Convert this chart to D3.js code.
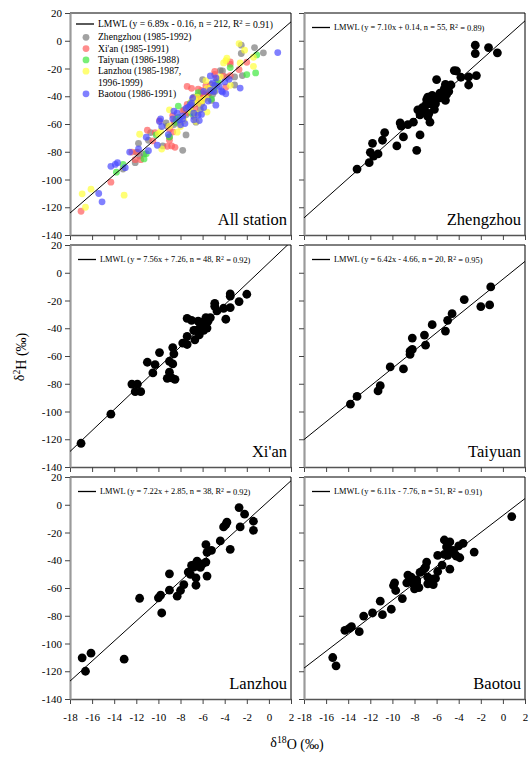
<!DOCTYPE html>
<html>
<head>
<meta charset="utf-8">
<script src="https://cdn.jsdelivr.net/npm/d3@7"></script>
<style>
  body { margin: 0; background: #fff; }
  svg { font-family: "Liberation Serif", "Times New Roman", serif; }
</style>
</head>
<body>
<div id="chart"></div>
<script>
// data: [d18O, d2H] per station
var zhengzhou = [[-2.5,-3.2],[-1.3,-4.9],[-2.5,-9.2],[-0.5,-8.7],[-2.4,-25.1],[-3.1,-26.1],[-3.1,-31.9],[-3.8,-26.3],
  [-4.4,-21.5],[-4.2,-21.8],[-6.0,-28.0],[-4.7,-31.9],[-5.2,-31.4],[-4.9,-36.5],[-5.4,-37.7],[-5.7,-37.7],
  [-5.2,-43.0],[-5.5,-40.6],[-5.8,-41.3],[-6.2,-40.8],[-6.4,-39.4],[-6.8,-40.6],[-6.9,-42.5],[-6.6,-45.4],
  [-7.0,-46.6],[-6.3,-44.2],[-6.1,-45.4],[-7.7,-49.8],[-7.5,-53.4],[-7.1,-50.2],[-6.8,-54.6],[-6.6,-58.7],
  [-6.2,-49.5],[-6.7,-52.4],[-8.1,-58.7],[-8.6,-60.4],[-9.3,-59.2],[-9.2,-61.6],[-10.7,-66.2],[-10.9,-71.7],
  [-9.0,-69.3],[-7.5,-67.9],[-9.6,-75.8],[-7.8,-79.0],[-11.8,-73.9],[-12.0,-80.4],[-11.7,-83.1],[-11.3,-81.6],
  [-12.1,-87.9],[-13.2,-92.5],[-5.7,-39.4],[-5.3,-34.5],[-6.5,-41.8],[-5.1,-38.7],[-7.3,-48.3]];
var xian = [[-17.0,-122.9],[-14.3,-101.9],[-12.4,-80.2],[-11.9,-80.2],[-12.1,-85.7],[-11.6,-85.7],[-11.0,-64.5],
  [-10.5,-72.2],[-10.3,-66.2],[-9.9,-57.5],[-8.7,-53.9],[-8.6,-58.4],[-9.0,-63.8],[-8.7,-65.7],[-9.0,-71.7],
  [-9.2,-76.1],[-8.8,-75.8],[-8.5,-76.8],[-7.8,-50.7],[-7.4,-51.7],[-7.4,-45.9],[-7.4,-32.9],[-7.0,-34.3],
  [-6.7,-48.3],[-6.4,-34.8],[-6.2,-41.5],[-6.3,-44.7],[-6.1,-40.1],[-5.9,-41.5],[-5.8,-37.9],[-5.6,-39.9],
  [-6.1,-35.8],[-5.7,-32.3],[-3.9,-33.5],[-4.9,-22.0],[-4.9,-24.2],[-4.7,-27.5],[-4.1,-25.6],[-3.5,-25.1],
  [-3.5,-16.9],[-3.5,-15.2],[-2.7,-20.8],[-2.0,-15.5],[-5.3,-32.3],[-6.7,-41.5],[-5.5,-34.8],[-6.2,-38.8],[-6.8,-41.5]];
var taiyuan = [[-1.1,-10.2],[-1.2,-23.2],[-2.0,-24.4],[-3.5,-19.3],[-4.6,-29.5],[-5.0,-34.3],[-5.2,-42.0],
  [-6.4,-37.4],[-7.1,-44.9],[-7.0,-52.2],[-8.2,-47.1],[-8.4,-56.5],[-8.4,-58.9],[-9.0,-69.3],[-10.2,-67.9],
  [-11.1,-81.4],[-11.3,-85.2],[-13.2,-89.1],[-13.8,-94.7],[-8.2,-55.3]];
var lanzhou = [[-16.9,-110.3],[-16.6,-120.0],[-16.1,-107.0],[-13.1,-111.3],[-11.7,-67.4],[-10.0,-67.1],[-9.8,-65.2],
  [-9.7,-78.0],[-9.0,-49.8],[-9.0,-61.6],[-8.3,-65.9],[-8.0,-61.8],[-7.7,-57.5],[-7.3,-48.5],[-7.1,-50.2],
  [-7.0,-43.7],[-6.7,-43.0],[-6.6,-52.7],[-6.6,-58.0],[-6.5,-40.6],[-6.2,-45.2],[-6.0,-42.7],[-5.7,-28.8],
  [-5.7,-41.3],[-5.6,-34.3],[-5.6,-51.4],[-5.2,-32.9],[-4.4,-26.1],[-4.1,-16.0],[-3.8,-12.6],[-3.9,-14.3],
  [-3.5,-32.1],[-2.7,-2.0],[-2.6,-16.0],[-2.2,-6.8],[-1.4,-11.9],[-1.4,-18.4],[-6.8,-44.9]];
var baotou = [[0.8,-8.5],[-2.6,-34.1],[-3.6,-27.8],[-4.0,-29.7],[-4.2,-37.0],[-3.9,-38.2],[-4.3,-36.2],[-4.8,-26.8],
  [-5.3,-25.4],[-5.3,-35.8],[-4.9,-32.1],[-4.8,-46.4],[-5.9,-36.5],[-5.5,-43.5],[-5.9,-48.1],[-6.4,-53.6],
  [-6.1,-53.1],[-6.8,-57.0],[-6.9,-41.3],[-7.0,-44.9],[-7.3,-47.8],[-7.5,-48.8],[-7.1,-46.1],[-7.8,-56.3],
  [-7.6,-59.7],[-8.0,-60.6],[-8.1,-57.0],[-8.3,-52.2],[-8.7,-56.3],[-8.6,-50.7],[-9.8,-56.3],[-9.7,-61.8],
  [-9.1,-67.6],[-10.1,-75.3],[-11.1,-69.5],[-10.9,-79.2],[-11.8,-78.0],[-12.6,-80.2],[-13.0,-91.5],[-13.7,-87.9],
  [-13.9,-89.1],[-14.3,-90.5],[-15.1,-116.1],[-15.4,-110.1],[-4.5,-32.9],[-5.0,-36.5],[-6.3,-57.5],[-6.8,-52.2],
  [-7.8,-54.1],[-5.1,-30.4],[-9.9,-58.2]];

var stationData = [zhengzhou, xian, taiyuan, lanzhou, baotou];
var stationPeriods = ["Zhengzhou (1985-1992)", "Xi'an (1985-1991)", "Taiyuan (1986-1988)", "Lanzhou (1985-1987,", "Baotou (1986-1991)"];
var stationColors = ["#7a7a7a", "#ff5c5c", "#3fe83f", "#ffff3a", "#4a4aff"];
var panelTitles = ["All station", "Zhengzhou", "Xi'an", "Taiyuan", "Lanzhou", "Baotou"];
// LMWL: slope, intercept, n, R2
var lmwlSlope = [6.89, 7.10, 7.56, 6.42, 7.22, 6.11];
var lmwlIntercept = [-0.16, 0.14, 7.26, -4.66, 2.85, -7.76];
var lmwlN = [212, 55, 48, 20, 38, 51];
var lmwlR2 = ["0.91", "0.89", "0.92", "0.95", "0.92", "0.91"];
var xTicks = [-18, -16, -14, -12, -10, -8, -6, -4, -2, 0, 2];
var yTicks = [-140, -120, -100, -80, -60, -40, -20, 0, 20];

var svgWidth = 530, svgHeight = 758;
var colX = [70, 304], rowY = [13, 245, 477];
var pw = 221, ph = 222;
var serif = "Liberation Serif";

var svg = d3.select("#chart").append("svg")
  .attr("width", svgWidth)
  .attr("height", svgHeight)
  .attr("font-family", serif);

var x = d3.scaleLinear().domain([-18, 2]).range([0, pw]);
var y = d3.scaleLinear().domain([-140, 20]).range([ph, 0]);

function fmt(v) { return v.toFixed(2); }

panelTitles.forEach(function(title, i) {
  var col = i % 2, row = Math.floor(i / 2);
  var g = svg.append("g").attr("transform", `translate(${colX[col]}, ${rowY[row]})`);

  g.append("clipPath").attr("id", "clip" + i)
    .append("rect").attr("width", pw).attr("height", ph);

  // top + right frame
  g.append("path")
    .attr("d", `M0,0H${pw}V${ph}`)
    .attr("fill", "none").attr("stroke", "#000").attr("stroke-width", 1);

  // bottom axis
  var xAxis = g.append("g").attr("transform", `translate(0, ${ph})`)
    .call(d3.axisBottom(x).tickValues(xTicks).tickSize(5).tickSizeOuter(0)
      .tickFormat(row === 2 ? d3.format("d") : ""));
  xAxis.attr("font-family", serif).attr("font-size", 11);
  xAxis.select(".domain").attr("stroke", "#555").attr("stroke-width", 1.3);
  xAxis.selectAll(".tick line").attr("stroke", "#444");
  xAxis.selectAll("text").attr("fill", "#000").attr("dy", "1.25em")
    .text(d => row === 2 ? String(d) : "");

  // left axis
  var yAxis = g.append("g")
    .call(d3.axisLeft(y).tickValues(yTicks).tickSize(5).tickSizeOuter(0)
      .tickFormat(col === 0 ? d3.format("d") : ""));
  yAxis.attr("font-family", serif).attr("font-size", 11);
  yAxis.select(".domain").attr("stroke", "#9a9a9a").attr("stroke-width", 2.2);
  yAxis.selectAll(".tick line").attr("stroke", "#444");
  yAxis.selectAll("text").attr("fill", "#000")
    .text(d => col === 0 ? String(d) : "");

  var plot = g.append("g").attr("clip-path", `url(#clip${i})`);

  // points
  if (i === 0) {
    stationData.forEach(function(pts, s) {
      plot.selectAll(".p" + s).data(pts).enter().append("circle")
        .attr("class", "p" + s)
        .attr("cx", d => x(d[0])).attr("cy", d => y(d[1]))
        .attr("r", 3.4).attr("fill", stationColors[s]).attr("fill-opacity", 0.7);
    });
  } else {
    plot.selectAll("circle").data(stationData[i - 1]).enter().append("circle")
      .attr("cx", d => x(d[0])).attr("cy", d => y(d[1]))
      .attr("r", 4.4).attr("fill", "#000");
  }

  // LMWL line
  var ends = x.domain().map(v => [v, lmwlSlope[i] * v + lmwlIntercept[i]]);
  plot.append("path")
    .attr("d", d3.line().x(d => x(d[0])).y(d => y(d[1]))(ends))
    .attr("stroke", "#000").attr("stroke-width", 1).attr("fill", "none");

  // legend
  var ly = i === 0 ? 11 : 14.5;
  var lx = i === 0 ? 6 : 8;
  var fs = i === 0 ? 9.6 : 8.4;
  g.append("line").attr("x1", lx).attr("x2", lx + 18).attr("y1", ly).attr("y2", ly)
    .attr("stroke", "#000").attr("stroke-width", 1.3);
  var b = lmwlIntercept[i];
  var lt = g.append("text").attr("x", lx + 22).attr("y", ly).attr("dy", "0.33em")
    .attr("font-size", fs);
  lt.append("tspan").text(`LMWL (y = ${fmt(lmwlSlope[i])}x ${b < 0 ? "-" : "+"} ${fmt(Math.abs(b))}, n = ${lmwlN[i]}, R`);
  lt.append("tspan").attr("dy", "-0.4em").attr("font-size", "0.7em").text("2");
  lt.append("tspan").attr("dy", "0.4em").text(` = ${lmwlR2[i]})`);

  if (i === 0) {
    var rows = [0, 1, 2, 3, 5];
    stationPeriods.forEach(function(label, s) {
      var ry = 24.3 + rows[s] * 11.3;
      g.append("circle").attr("cx", 16).attr("cy", ry).attr("r", 3.4)
        .attr("fill", stationColors[s]).attr("fill-opacity", 0.7);
      g.append("text").attr("x", 28).attr("y", ry).attr("dy", "0.33em")
        .attr("font-size", fs).text(label);
    });
    g.append("text").attr("x", 28).attr("y", 24.3 + 4 * 11.3).attr("dy", "0.33em")
      .attr("font-size", fs).text("1996-1999)");
  }

  // panel title
  g.append("text").attr("x", pw - 4).attr("y", ph - 10)
    .attr("text-anchor", "end").attr("font-size", 16.5).text(title);
});

// axis titles
var xt = svg.append("text").attr("x", 297).attr("y", 747)
  .attr("text-anchor", "middle").attr("font-size", 14);
xt.append("tspan").text("δ");
xt.append("tspan").attr("dy", "-0.45em").attr("font-size", "0.7em").text("18");
xt.append("tspan").attr("dy", "0.45em").text("O (‰)");

var yt = svg.append("text")
  .attr("transform", "translate(24, 357) rotate(-90)")
  .attr("text-anchor", "middle").attr("font-size", 14);
yt.append("tspan").text("δ");
yt.append("tspan").attr("dy", "-0.45em").attr("font-size", "0.7em").text("2");
yt.append("tspan").attr("dy", "0.45em").text("H (‰)");
</script>
</body>
</html>
